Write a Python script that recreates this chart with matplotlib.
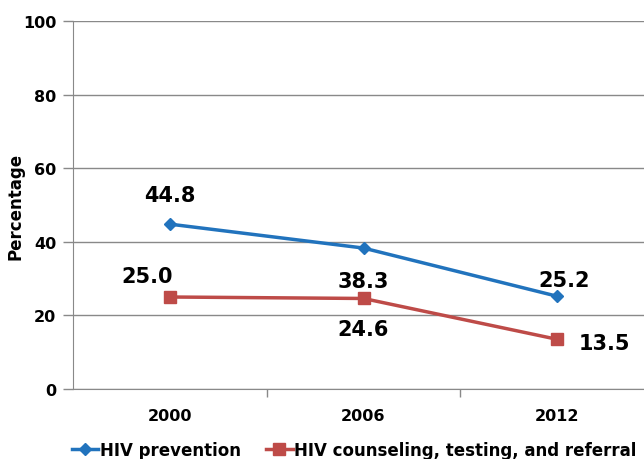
import matplotlib.pyplot as plt

# values
years = ['2000', '2006', '2012']
prevention = [44.8, 38.3, 25.2]
counseling = [25.0, 24.6, 13.5]
y_ticks = [0, 20, 40, 60, 80, 100]

blue = '#2173BD'
red = '#BE4B48'
grid_col = '#898989'

fig = plt.figure(figsize=(6.44, 4.60), dpi=100)
# plot area runs past the right edge, as in the cropped original
ax = fig.add_axes([73 / 644, 1 - 390 / 460, (654 - 73) / 644, (390 - 22) / 460])

x = [1, 2, 3]
ax.plot(x, prevention, color=blue, lw=2.5, marker='D', ms=6, label='HIV prevention')
ax.plot(x, counseling, color=red, lw=2.5, marker='s', ms=8,
        label='HIV counseling, testing, and referral')

ax.set_xlim(0.5, 3.5)
ax.set_ylim(0, 100)
ax.set_yticks(y_ticks)
ax.set_xticks(x)
ax.set_xticklabels(years)
ax.set_xticks([1.5, 2.5], minor=True)
ax.tick_params(axis='x', which='major', length=0, pad=14)
ax.tick_params(axis='x', which='minor', length=6, color=grid_col, width=1)
ax.tick_params(axis='y', length=7, color=grid_col, width=1, pad=5)
for lab in ax.get_xticklabels() + ax.get_yticklabels():
    lab.set_fontweight('bold')
    lab.set_fontsize(11.5)

ax.grid(axis='y', color=grid_col, lw=1)
ax.set_axisbelow(True)
for side in ['top', 'right']:
    ax.spines[side].set_visible(False)
ax.spines['left'].set_color(grid_col)
ax.spines['bottom'].set_color(grid_col)

# label text right edge sits near x=25 px
ax.set_ylabel('Percentage', fontsize=12, fontweight='bold')
ax.yaxis.set_label_coords((25 - 73) / 581, 0.5)

# data labels, offsets in points from each marker
lab_style = dict(fontsize=15, fontweight='bold', textcoords='offset points')
offs_prev = [(0, 21), (0, -24), (5, 12)]
offs_coun = [(-16, 15), (0, -22), (34, -3)]
for xi, v, o in zip(x, prevention, offs_prev):
    ax.annotate(f'{v:.1f}', (xi, v), xytext=o, ha='center', va='center', **lab_style)
for xi, v, o in zip(x, counseling, offs_coun):
    ax.annotate(f'{v:.1f}', (xi, v), xytext=o, ha='center', va='center', **lab_style)

leg = fig.legend(loc='center', bbox_to_anchor=(0.55, 1 - 451 / 460), ncol=2,
                 frameon=False, prop={'weight': 'bold', 'size': 12},
                 handlelength=1.6, handletextpad=0.1, columnspacing=1.5)

fig.savefig('out.png', dpi=100)
